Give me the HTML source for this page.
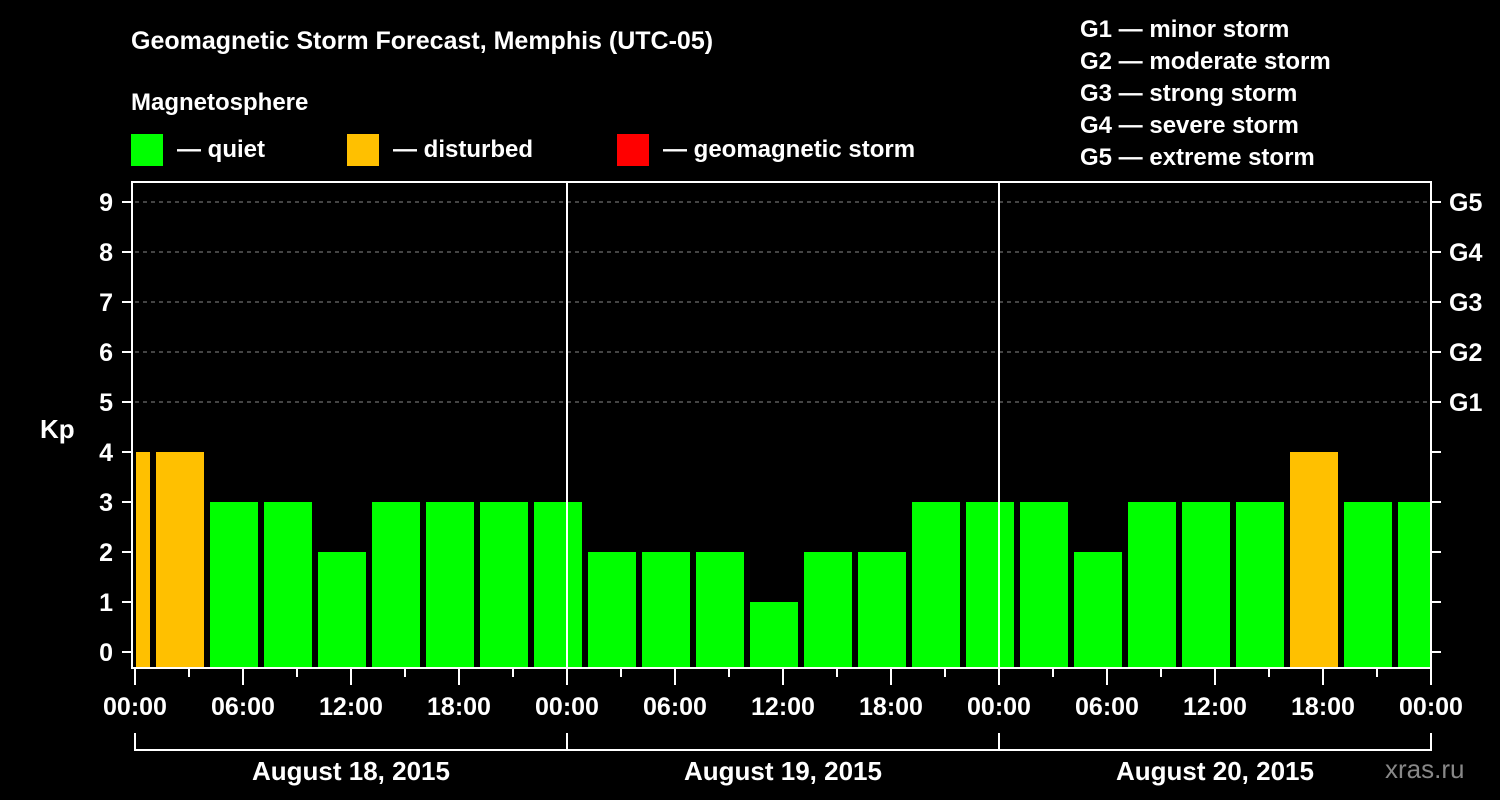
<!DOCTYPE html>
<html><head><meta charset="utf-8"><style>
html,body{margin:0;padding:0;background:#000;}
svg{display:block;font-family:"Liberation Sans",sans-serif;font-weight:bold;}
</style></head><body>
<svg id="chart" width="1500" height="800" viewBox="0 0 1500 800">
<text x="131" y="49" fill="#fff" font-size="25">Geomagnetic Storm Forecast, Memphis (UTC-05)</text>
<text x="131" y="110" fill="#fff" font-size="24">Magnetosphere</text>
<g><rect x="131" y="134" width="32" height="32" fill="#00ff00"/><text x="177" y="157" fill="#fff" font-size="24">— quiet</text></g>
<g><rect x="347" y="134" width="32" height="32" fill="#ffc000"/><text x="393" y="157" fill="#fff" font-size="24">— disturbed</text></g>
<g><rect x="617" y="134" width="32" height="32" fill="#ff0000"/><text x="663" y="157" fill="#fff" font-size="24">— geomagnetic storm</text></g>
<g fill="#fff" font-size="24">
<text x="1080" y="37">G1 — minor storm</text>
<text x="1080" y="69">G2 — moderate storm</text>
<text x="1080" y="101">G3 — strong storm</text>
<text x="1080" y="133">G4 — severe storm</text>
<text x="1080" y="165">G5 — extreme storm</text>
</g>
<text x="40" y="438" fill="#fff" font-size="26">Kp</text>
<text x="1385" y="778" fill="#888" font-size="26" font-weight="normal">xras.ru</text>
<g id="grid"></g><g id="bars"></g><g id="axes"></g>
</svg>
<script>
const barStartHours = [-2,1,4,7,10,13,16,19,22,25,28,31,34,37,40,43,46,49,52,55,58,61,64,67,70];
const kpValues = [4,4,3,3,2,3,3,3,3,2,2,2,1,2,2,3,3,3,2,3,3,3,4,3,3];
const yTickLabels = ["0","1","2","3","4","5","6","7","8","9"];
const gLabels = ["G1","G2","G3","G4","G5"];
const xTickLabels = ["00:00","06:00","12:00","18:00","00:00","06:00","12:00","18:00","00:00","06:00","12:00","18:00","00:00"];
const dayLabels = ["August 18, 2015","August 19, 2015","August 20, 2015"];
const X0=135, PXH=18, TOTAL=72, YB=668, YTOP=182;
const xs=h=>X0+h*PXH;
const ys=v=>652-50*v;
const NS="http://www.w3.org/2000/svg";
function mk(tag,parent,attrs){const e=document.createElementNS(NS,tag);for(const k in attrs)e.setAttribute(k,attrs[k]);document.getElementById(parent).appendChild(e);return e;}
// grid
for(let v=5;v<=9;v++){
 const l=mk('line','grid',{x1:xs(0),x2:xs(TOTAL),y1:ys(v),y2:ys(v),stroke:'#888','stroke-width':1,'stroke-dasharray':'4,4'});
 
 
}
// bars
barStartHours.forEach((h,i)=>{
 const v=kpValues[i];
 let a=Math.max(xs(h)+3,xs(0)+1), b=Math.min(xs(h+3)-3,xs(TOTAL)-1);
 const col=v>=5?'#ff0000':(v>=4?'#ffc000':'#00ff00');
 const r=mk('rect','bars',{x:a,y:ys(v),width:b-a,height:YB-ys(v),fill:col});
 
 
});
// frame
const fr=mk('rect','axes',{x:xs(0)-3,y:YTOP,width:xs(TOTAL)-xs(0)+3,height:YB-YTOP,fill:'none',stroke:'#fff','stroke-width':2});


[24,48].forEach(h=>{
 const l=mk('line','axes',{x1:xs(h),x2:xs(h),y1:YTOP,y2:YB,stroke:'#fff','stroke-width':2});
 
 
});
yTickLabels.forEach((t,v)=>{
 mk('line','axes',{x1:122,x2:132,y1:ys(v),y2:ys(v),stroke:'#fff','stroke-width':2});
 mk('line','axes',{x1:xs(TOTAL),x2:xs(TOTAL)+10,y1:ys(v),y2:ys(v),stroke:'#fff','stroke-width':2});
 const tx=mk('text','axes',{x:113,y:ys(v)+9,fill:'#fff','font-size':25,'text-anchor':'end'});
 tx.textContent=t;
 
 
});
gLabels.forEach((t,i)=>{
 const tx=mk('text','axes',{x:1449,y:ys(i+5)+9,fill:'#fff','font-size':25});
 tx.textContent=t;
 
 
});
for(let h=0;h<=TOTAL;h+=3){
 const major=h%6===0;
 mk('line','axes',{x1:xs(h),x2:xs(h),y1:YB,y2:YB+(major?17:9),stroke:'#fff','stroke-width':2});
}
xTickLabels.forEach((t,i)=>{
 const tx=mk('text','axes',{x:xs(i*6),y:715,fill:'#fff','font-size':25,'text-anchor':'middle'});
 tx.textContent=t;
 
 
});
mk('line','axes',{x1:xs(0),x2:xs(TOTAL),y1:750,y2:750,stroke:'#fff','stroke-width':2});
[0,24,48,72].forEach(h=>mk('line','axes',{x1:xs(h),x2:xs(h),y1:733,y2:751,stroke:'#fff','stroke-width':2}));
dayLabels.forEach((t,i)=>{
 const tx=mk('text','axes',{x:xs(i*24+12),y:780,fill:'#fff','font-size':26,'text-anchor':'middle'});
 tx.textContent=t;
 
 
});
</script>
</body></html>
